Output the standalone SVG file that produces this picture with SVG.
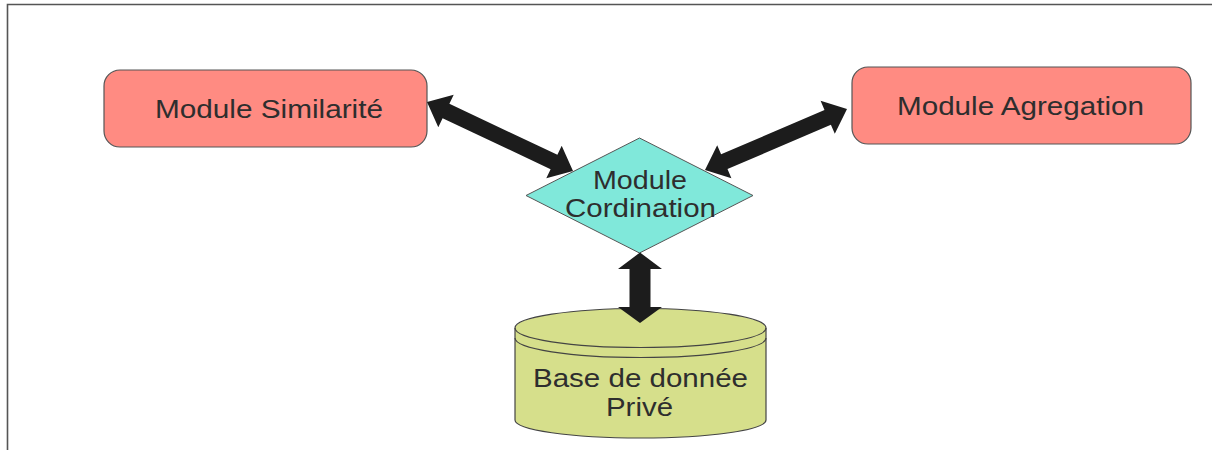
<svg xmlns="http://www.w3.org/2000/svg" width="1212" height="450" viewBox="0 0 1212 450">
<style>
.lbl{font-family:"Liberation Sans",Arial,sans-serif;font-size:25px;fill:#2e2e2e;}
.box{fill:#ff8b82;stroke:#555;stroke-width:1.2;}
.arr{fill:#1c1c1c;stroke:none;}
</style>
<rect width="1212" height="450" fill="#fff"/>
<path d="M7.5,450 V4.5 H1212" fill="none" stroke="#555" stroke-width="1.6"/>
<g id="node-similarite">
<rect class="box" x="104" y="70" width="323" height="77" rx="16"/>
<text class="lbl" x="155" y="118" textLength="228" lengthAdjust="spacingAndGlyphs">Module Similarité</text>
</g>
<g id="node-agregation">
<rect class="box" x="852" y="67" width="339" height="77" rx="16"/>
<text class="lbl" x="897" y="115" textLength="247" lengthAdjust="spacingAndGlyphs">Module Agregation</text>
</g>
<g id="node-cordination">
<polygon points="639.5,138 753,195.5 639.5,253 526,195.5" fill="#80e8da" stroke="#555" stroke-width="1"/>
<text class="lbl" x="593" y="189" textLength="94" lengthAdjust="spacingAndGlyphs">Module</text>
<text class="lbl" x="565" y="217" textLength="151" lengthAdjust="spacingAndGlyphs">Cordination</text>
</g>
<g id="node-base">
<path d="M515,328 V420 A125.5,18 0 0 0 766,420 V328 A125.5,19.5 0 0 0 515,328 Z" fill="#d6df8b" stroke="#444" stroke-width="1.2"/>
<path d="M515,328 A125.5,19.5 0 0 0 766,328" fill="none" stroke="#444" stroke-width="1.2"/>
<path d="M515,338 A125.5,19.5 0 0 0 766,338" fill="none" stroke="#444" stroke-width="1.2"/>
<text class="lbl" x="533" y="387" textLength="215" lengthAdjust="spacingAndGlyphs">Base de donnée</text>
<text class="lbl" x="606" y="416" textLength="67" lengthAdjust="spacingAndGlyphs">Privé</text>
</g>
<g id="connectors">
<polygon class="arr" points="427,102 453.7,94.7 449.4,103.8 557.4,154.8 561.7,145.7 573,171 546.3,178.3 550.6,169.2 442.6,118.2 438.3,127.3"/>
<polygon class="arr" points="847,109 820.6,100.8 824.5,109.9 721.1,154.3 717.2,145.2 705,170 731.4,178.2 727.5,169.1 830.9,124.7 834.8,133.8"/>
<polygon class="arr" points="640,252.5 662,269 650.5,269 650.5,307 662,307 640,323 618,307 629.5,307 629.5,269 618,269"/>
</g>
</svg>
